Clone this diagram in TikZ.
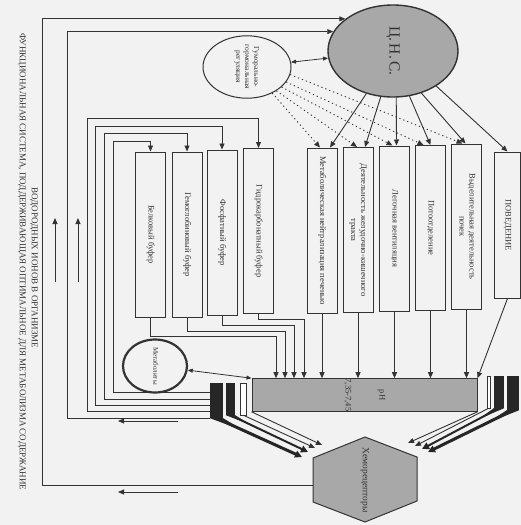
\documentclass[tikz,border=0pt]{standalone}
\usepackage{fontspec}
\setmainfont{Liberation Serif}
\usepackage{graphicx}
\usepackage{xcolor}
\usepackage{tikz}
\usetikzlibrary{shapes.geometric}
\usetikzlibrary{arrows.meta}
\usetikzlibrary{calc}

\definecolor{paper}{gray}{0.95}
\definecolor{ink}{gray}{0.2}
\definecolor{shade}{gray}{0.66}

\newcommand{\vtxt}[1]{\rotatebox{-90}{\begin{tabular}{@{}c@{}}#1\end{tabular}}}

\begin{document}
\begin{tikzpicture}[
    x=1pt, y=-1pt,
    every node/.style={inner sep=0pt, text=ink, font=\fontsize{8.5}{10}\selectfont},
    box/.style={rectangle, draw=ink, line width=1pt, minimum width=30pt, minimum height=165pt},
    oval/.style={ellipse, draw=ink, line width=1pt},
    title/.style={font=\fontsize{9}{10}\selectfont},
    band/.style={rectangle, fill=black!85, minimum width=#1},
    band/.default=10pt,
    arr/.style={draw=ink, line width=0.9pt, -{Triangle[length=6pt,width=5pt]}},
    dbl/.style={draw=ink, line width=0.8pt, {Triangle[length=5pt,width=4pt]}-{Triangle[length=5pt,width=4pt]}},
    dots/.style={draw=ink, line width=0.9pt, dash pattern=on 1.2pt off 3pt, -{Triangle[length=6pt,width=5pt]}},
    wire/.style={draw=black!85, -{Triangle[length=7pt,width=7pt]}},
  ]

  \fill[paper] (0,0) rectangle (521,525);
  \useasboundingbox (0,0) rectangle (521,525);

  \node[title] (ttl1) at (22,262) {\rotatebox{-90}{ФУНКЦИОНАЛЬНАЯ СИСТЕМА, ПОДДЕРЖИВАЮЩАЯ ОПТИМАЛЬНОЕ ДЛЯ МЕТАБОЛИЗМА СОДЕРЖАНИЕ}};
  \node[title] (ttl2) at (34,268) {\rotatebox{-90}{ВОДОРОДНЫХ ИОНОВ В ОРГАНИЗМЕ}};

  \node[oval, fill=shade, line width=1.4pt, minimum width=130pt, minimum height=92pt,
        font=\fontsize{15.5}{18}\selectfont] (cns) at (393,51) {\rotatebox{-90}{Ц.\,Н.\,С.}};
  \node[oval, minimum width=88pt, minimum height=60pt, font=\fontsize{7.5}{9}\selectfont]
        (hum) at (247,67) {\vtxt{Гуморально-\\гормональная\\регуляция}};

  \node[box] (met)   at (322,230.5) {\vtxt{Метаболическая нейтрализация печенью}};
  \node[box] (git)   at (358,230)   {\vtxt{Деятельность желудочно-кишечного\\тракта}};
  \node[box] (lung)  at (394.5,228.5) {\vtxt{Легочная вентиляция}};
  \node[box] (sweat) at (430.5,228) {\vtxt{Потоотделение}};
  \node[box] (kid)   at (466.5,226.5) {\vtxt{Выделительная деятельность\\почек}};
  \node[box, minimum width=26pt, minimum height=146pt] (beh) at (507.5,225) {\vtxt{ПОВЕДЕНИЕ}};

  \node[box] (bb) at (150.5,234.5) {\vtxt{Белковый буфер}};
  \node[box] (hb) at (187,234.5)   {\vtxt{Гемоглобиновый буфер}};
  \node[box] (pb) at (222,232.5)   {\vtxt{Фосфатный буфер}};
  \node[box] (cb) at (258.5,231)   {\vtxt{Гидрокарбонатный буфер}};

  \node[rectangle, draw=ink, fill=shade, line width=1pt, minimum width=225pt, minimum height=32pt]
        (ph) at (364.5,395) {\rotatebox{-90}{\begin{tabular}{@{}c@{}}pH\\[24pt]7,35-7,45\end{tabular}}};

  \node[oval, line width=2.2pt, minimum width=64pt, minimum height=47pt, font=\fontsize{7}{8}\selectfont]
        (mtb) at (155,366) {\vtxt{Метаболиты}};

  \coordinate (h1) at (365,437);
  \coordinate (h2) at (313,458);
  \coordinate (h3) at (313,502);
  \coordinate (h4) at (365,522);
  \coordinate (h5) at (417,501);
  \coordinate (h6) at (417,457);
  \coordinate (hx-left) at (313,485);
  \filldraw[fill=shade, draw=ink, line width=1pt] (h1) -- (h2) -- (h3) -- (h4) -- (h5) -- (h6) -- cycle;
  \node[font=\fontsize{9.5}{11}\selectfont] (chemo) at (365,480) {\vtxt{Хеморецепторы}};

  \node[band=13pt, minimum height=35pt] (bA) at (216.5,400.5) {};
  \node[band=9pt, minimum height=32pt] (bB) at (230.5,399) {};
  \node[rectangle, draw=ink, fill=white, line width=0.6pt, minimum width=6pt, minimum height=32pt] (bC) at (243.5,399) {};
  \node[band=12pt, minimum height=34pt] (bAr) at (513,393) {};
  \node[band=10pt, minimum height=32pt] (bBr) at (499,392) {};
  \node[rectangle, draw=ink, fill=white, line width=0.6pt, minimum width=3pt, minimum height=32pt] (bCr) at (488.5,392) {};

  \draw[dbl] (hum) -- (cns);
  \draw[dbl] (mtb) -- (ph.north west);

  \draw[arr] (cns.-122) -- ([xshift=8pt]met.north);
  \draw[arr] (cns.-105) -- ([xshift=7pt]git.north);
  \draw[arr] (cns.-86)  -- ([xshift=2pt]lung.north);
  \draw[arr] (cns.-70)  -- (sweat.north);
  \draw[arr] (cns.-56)  -- ([xshift=-1pt]kid.north);
  \draw[arr] (cns.-39)  -- (beh.north);

  \draw[dots] (hum.-46) -- ([xshift=-2pt]met.north);
  \draw[dots] (hum.-39) -- ([xshift=-1pt]git.north);
  \draw[dots] (hum.-30) -- ([xshift=-2pt]lung.north);
  \draw[dots] (hum.-21) -- ([xshift=-7pt]sweat.north);
  \draw[dots] (hum.-10) -- ([xshift=-4pt]kid.north);

  \draw[arr] (met.south)   -- (met.south |- ph.north);
  \draw[arr] (git.south)   -- (git.south |- ph.north);
  \draw[arr] (lung.south)  -- (lung.south |- ph.north);
  \draw[arr] (sweat.south) -- (sweat.south |- ph.north);
  \draw[arr] (kid.south)   -- (kid.south |- ph.north);
  \draw[arr] (beh.south)   -- (ph.north east);

  \draw[arr] (bb.south) |- (276,336) -- (276,336 |- ph.north);
  \draw[arr] (hb.south) |- (285,331) -- (285,331 |- ph.north);
  \draw[arr] (pb.south) |- (294,325) -- (294,325 |- ph.north);
  \draw[arr] (cb.south) |- (304,319) -- (304,319 |- ph.north);

  \draw[arr] (bA.west |- 0,392) -| (113,141) -| (bb.north);
  \draw[arr] (bA.west |- 0,399) -| (104,133) -| (hb.north);
  \draw[arr] (bA.west |- 0,405) -| (95,126)  -| (pb.north);
  \draw[arr] (bA.west |- 0,411) -| (87,118)  -| (cb.north);
  \draw[arr] (bA.south west) -- (67,0 |- bA.south west) |- (cns.162);
  \draw[arr] (hx-left) -- (42,0 |- hx-left) |- (cns.146);

  \draw[arr] (55,282) -- (55,218);
  \draw[arr] (78,282) -- (78,218);
  \draw[arr] (178,421) -- (118,421);
  \draw[arr] (178,492) -- (118,492);

  \fill[black!85] (bA.south west) -- (bA.south east) -- ($(bA.south)!0.3!(302,457)$) -- cycle;
  \draw[wire, line width=3pt] (bA.south) -- (302,457);
  \fill[black!85] (bB.south west) -- (bB.south east) -- ($(bB.south)!0.25!(308,452)$) -- cycle;
  \draw[wire, line width=2pt] (bB.south) -- (308,452);
  \draw[arr] (bC.south) -- (315,448);
  \draw[arr] (ph.south west) -- (322,445);

  \fill[black!85] (bAr.south west) -- (bAr.south east) -- ($(bAr.south)!0.3!(428,452)$) -- cycle;
  \draw[wire, line width=3pt] (bAr.south) -- (428,452);
  \fill[black!85] (bBr.south west) -- (bBr.south east) -- ($(bBr.south)!0.25!(422,449)$) -- cycle;
  \draw[wire, line width=2pt] (bBr.south) -- (422,449);
  \draw[arr] (bCr.south) -- (415,446);
  \draw[arr] (ph.south east) -- (408,443);

\end{tikzpicture}
\end{document}
